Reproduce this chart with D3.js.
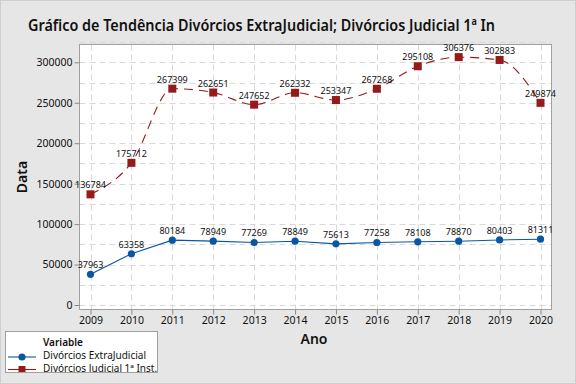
<!DOCTYPE html>
<html><head><meta charset="utf-8">
<script src="https://cdn.jsdelivr.net/npm/d3@7"></script>
<style>body{margin:0;background:#e6e6e6}svg{display:block}</style>
</head><body>
<svg id="c" width="576" height="384"></svg>
<script>
const years = [2009,2010,2011,2012,2013,2014,2015,2016,2017,2018,2019,2020];
const extraJudicial = [37963,63358,80184,78949,77269,78849,75613,77258,78108,78870,80403,81311];
const judicial = [136784,175712,267399,262651,247652,262332,253347,267268,295108,306376,302883,249874];
const yTicks = [0,50000,100000,150000,200000,250000,300000];
const seriesNames = ["Divórcios ExtraJudicial","Divórcios Judicial 1ª Inst."];
const titleText = "Gráfico de Tendência Divórcios ExtraJudicial; Divórcios Judicial 1ª In";

const font = "'Noto Sans', 'Open Sans', sans-serif";
const svg = d3.select("#c");
const W = 576, H = 384;
svg.append("rect").attr("x",0.5).attr("y",0.5).attr("width",W-1).attr("height",H-1)
  .attr("fill","#e6e6e6").attr("stroke","#cfcfcf");

const pl = 79.5, pr = 551.5, pt = 44.5, pb = 309.5;
const x = d3.scaleLinear().domain([2009,2020]).range([90.5,540.5]);
const y = d3.scaleLinear().domain([0,300000]).range([305,62.3]);

svg.append("rect").attr("x",pl).attr("y",pt).attr("width",pr-pl).attr("height",pb-pt)
  .attr("fill","#fff");

// grid
const g = svg.append("g");
const hGrid = d3.range(0, 325001, 25000);
g.selectAll(".hg").data(hGrid).join("line")
  .attr("x1",pl).attr("x2",pr).attr("y1",d=>Math.round(y(d))+0.5).attr("y2",d=>Math.round(y(d))+0.5)
  .attr("stroke","#d9d9d9").attr("stroke-dasharray","6,4");
g.selectAll(".vg").data(years).join("line")
  .attr("y1",pt).attr("y2",pb).attr("x1",d=>Math.round(x(d))+0.5).attr("x2",d=>Math.round(x(d))+0.5)
  .attr("stroke","#d9d9d9").attr("stroke-dasharray","6,4");

svg.append("rect").attr("x",pl).attr("y",pt).attr("width",pr-pl).attr("height",pb-pt)
  .attr("fill","none").attr("stroke","#a0a0a0");

// axes
const yAxis = d3.axisLeft(y).tickValues(yTicks).tickSize(5).tickFormat(d3.format("d"));
const ya = svg.append("g").attr("transform",`translate(${pl},0)`).call(yAxis);
const xAxis = d3.axisBottom(x).tickValues(years).tickSize(5).tickFormat(d3.format("d"));
const xa = svg.append("g").attr("transform",`translate(0,${pb})`).call(xAxis);
[ya,xa].forEach(a=>{
  a.select(".domain").remove();
  a.selectAll(".tick line").attr("stroke","#8a8a8a");
  a.selectAll(".tick text").attr("fill","#111").style("font-family",font).style("font-size","10.5px");
});
ya.selectAll(".tick text").attr("x",-7);
xa.selectAll(".tick text").attr("y",7);

// clip
svg.append("clipPath").attr("id","clip").append("rect")
  .attr("x",pl).attr("y",pt).attr("width",pr-pl).attr("height",pb-pt);
const plot = svg.append("g").attr("clip-path","url(#clip)");

const blue = "#0b56a3", red = "#951a1a";
const lineRed = d3.line().x((d,i)=>x(years[i])).y(d=>y(d)).curve(d3.curveMonotoneX);
const lineBlue = d3.line().x((d,i)=>x(years[i])).y(d=>y(d));

plot.append("path").datum(judicial).attr("d",lineRed).attr("fill","none")
  .attr("stroke",red).attr("stroke-width",1.1).attr("stroke-dasharray","9,6");
plot.append("path").datum(extraJudicial).attr("d",lineBlue).attr("fill","none")
  .attr("stroke",blue).attr("stroke-width",1.1);

plot.selectAll(".sq").data(judicial).join("rect")
  .attr("x",(d,i)=>x(years[i])-4).attr("y",d=>y(d)-4).attr("width",8).attr("height",8).attr("fill",red);
plot.selectAll(".ci").data(extraJudicial).join("circle")
  .attr("cx",(d,i)=>x(years[i])).attr("cy",d=>y(d)).attr("r",3.6).attr("fill",blue);

const labels = svg.append("g");
const lab = (data)=>labels.selectAll(null).data(data).join("text")
  .attr("x",(d,i)=>x(years[i])).attr("y",d=>y(d)-6)
  .attr("text-anchor","middle").attr("fill","#111")
  .style("font-family",font).style("font-size","9px").text(d=>d);
lab(judicial); lab(extraJudicial);

// titles
svg.append("text").attr("x",28).attr("y",31)
  .attr("textLength",467).attr("lengthAdjust","spacingAndGlyphs")
  .style("font-family",font).style("font-size","16px").style("font-weight","600").attr("fill","#111")
  .text(titleText);
svg.append("text").attr("x",314).attr("y",344).attr("text-anchor","middle")
  .style("font-family",font).style("font-size","14px").style("font-weight","600").attr("fill","#111").text("Ano");
svg.append("text").attr("transform","translate(27,177) rotate(-90)").attr("text-anchor","middle")
  .style("font-family",font).style("font-size","14px").style("font-weight","600").attr("fill","#111").text("Data");

// legend
svg.append("clipPath").attr("id","lclip").append("rect").attr("x",5).attr("y",331).attr("width",152).attr("height",41);
const lg = svg.append("g").attr("clip-path","url(#lclip)");
lg.append("rect").attr("x",5.5).attr("y",331.5).attr("width",152).attr("height",41).attr("fill","#fff");
lg.append("text").attr("x",43).attr("y",345.5).style("font-family",font).style("font-size","10px")
  .style("font-weight","600").attr("fill","#111").text("Variable");
const items = [{c:blue, s:"circle", n:seriesNames[0], yy:357},{c:red, s:"square", n:seriesNames[1], yy:369.5}];
items.forEach(it=>{
  lg.append("line").attr("x1",8).attr("x2",36).attr("y1",it.yy).attr("y2",it.yy).attr("stroke",it.c).attr("stroke-width",1.1);
  if(it.s==="circle") lg.append("circle").attr("cx",22).attr("cy",it.yy).attr("r",3.6).attr("fill",it.c);
  else lg.append("rect").attr("x",18.5).attr("y",it.yy-3.5).attr("width",7).attr("height",7).attr("fill",it.c);
  lg.append("text").attr("x",43).attr("y",it.yy+2).style("font-family",font).style("font-size","10px")
    .attr("fill","#111").text(it.n);
});
svg.append("rect").attr("x",5.5).attr("y",331.5).attr("width",152).attr("height",41).attr("fill","none").attr("stroke","#a0a0a0");
</script>
</body></html>
